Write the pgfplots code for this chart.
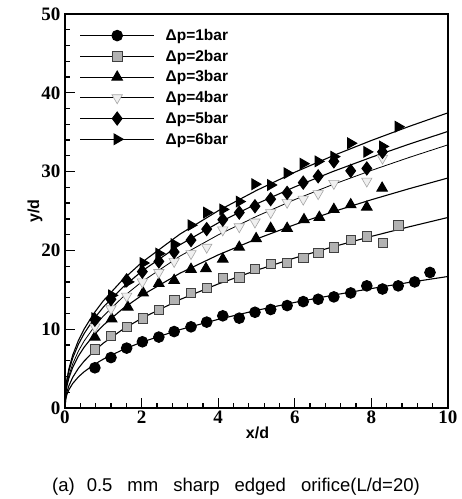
\documentclass[border=0pt]{standalone}
\usepackage{pgfplots}
\pgfplotsset{compat=1.18}
\usepackage{fontspec}
\setmainfont{Liberation Serif}
\newfontfamily\arial{Liberation Sans}
\begin{document}
\begin{tikzpicture}
\useasboundingbox (-65pt,-91pt) rectangle (397pt,408pt);
\begin{axis}[
  at={(0pt,0pt)}, anchor=south west,
  scale only axis, width=383pt, height=394pt,
  xmin=0, xmax=10, ymin=0, ymax=50,
  xtick={0,2,...,10}, ytick={0,10,...,50},
  minor x tick num=4, minor y tick num=4,
  xtick pos=bottom, ytick pos=left, tick align=inside,
  major tick length=10pt, minor tick length=5pt,
  every tick/.style={black, line width=1.3pt},
  axis line style={line width=2.2pt},
  /pgf/number format/assume math mode=true,
  ticklabel style={font=\bfseries\fontsize{19}{19}\selectfont},
  xticklabel style={yshift=1pt},
  yticklabel style={xshift=-1pt},
  xlabel={\arial\bfseries x/d}, ylabel={\arial\bfseries y/d},
  label style={font=\fontsize{16}{16}\selectfont},
  xlabel style={at={(axis description cs:0.5,0)}, anchor=center, yshift=-25pt, xshift=1pt},
  ylabel style={at={(axis description cs:0,0.5)}, anchor=center, yshift=30pt},
  legend style={draw=none, fill=none, at={(0.03,0.972)}, anchor=north west,
    font=\arial\bfseries\fontsize{15.5}{15.5}\selectfont, row sep=4pt,
    legend cell align=left, nodes={inner xsep=11pt}},
  legend image code/.code={\draw[#1, sharp plot, mark repeat=2, mark phase=2]
    plot coordinates {(0pt,0pt) (37pt,0pt) (74pt,0pt)};},
]
% data
\addplot[black, line width=1pt, only marks, mark=*, mark size=5.3pt, mark options={fill=black}]
 coordinates {(0.78,5.1)(1.20,6.4)(1.61,7.6)(2.02,8.4)(2.45,9.0)(2.85,9.7)(3.29,10.3)(3.70,10.9)(4.12,11.7)(4.55,11.4)(4.96,12.15)(5.37,12.5)(5.80,13.0)(6.22,13.5)(6.61,13.8)(7.02,14.1)(7.46,14.6)(7.88,15.5)(8.29,15.1)(8.70,15.5)(9.13,16.0)(9.53,17.2)};
\addlegendentry{Δp=1bar}
\addplot[black, line width=1pt, only marks, mark=square*, mark size=4.6pt, mark options={fill=gray!60, draw=gray!50!black, line width=0.5pt}]
 coordinates {(0.78,7.45)(1.20,9.14)(1.61,10.3)(2.02,11.4)(2.45,12.5)(2.85,13.7)(3.29,14.6)(3.70,15.3)(4.12,16.5)(4.55,16.6)(4.96,17.7)(5.37,18.3)(5.80,18.4)(6.22,19.1)(6.61,19.7)(7.02,20.4)(7.46,21.4)(7.88,21.8)(8.29,21.0)(8.70,23.2)};
\addlegendentry{Δp=2bar}
\addplot[black, line width=1pt, only marks, mark=triangle*, mark size=6pt, mark options={fill=black}]
 coordinates {(0.78,9.0)(1.22,11.3)(1.64,12.8)(2.04,14.6)(2.45,15.8)(2.85,16.2)(3.29,17.6)(3.68,17.7)(4.12,18.9)(4.55,20.4)(4.99,21.5)(5.37,22.8)(5.80,22.8)(6.24,23.9)(6.64,24.2)(7.02,25.2)(7.46,25.8)(7.88,25.5)(8.28,27.9)};
\addlegendentry{Δp=3bar}
\addplot[black, line width=0.7pt, only marks, mark=triangle*, mark size=6pt, mark options={rotate=180, fill=gray!12, draw=gray!70, line width=0.6pt}]
 coordinates {(0.78,10.3)(1.20,12.6)(1.61,14.2)(2.02,16.0)(2.45,17.2)(2.85,18.6)(3.29,19.6)(3.70,20.4)(4.12,22.6)(4.55,23.0)(4.96,23.6)(5.37,24.8)(5.80,26.1)(6.22,26.5)(6.61,27.2)(7.02,28.5)(7.88,28.8)(8.29,31.7)};
\addlegendentry{Δp=4bar}
\addplot[black, line width=1pt, only marks, mark=diamond*, mark size=6.5pt, mark options={fill=black}]
 coordinates {(0.78,11.2)(1.20,13.8)(1.61,16.2)(2.02,17.3)(2.45,18.6)(2.85,19.8)(3.29,21.3)(3.70,22.7)(4.12,23.9)(4.55,24.8)(4.96,25.6)(5.37,26.5)(5.80,27.3)(6.22,28.6)(6.61,29.4)(7.02,31.3)(7.46,30.1)(7.88,30.4)(8.29,32.5)};
\addlegendentry{Δp=5bar}
\addplot[black, line width=1pt, only marks, mark=triangle*, mark size=6pt, mark options={rotate=-90, fill=black}]
 coordinates {(0.78,11.4)(1.22,14.3)(1.64,16.0)(2.04,18.4)(2.45,19.6)(2.85,20.8)(3.29,23.2)(3.70,24.8)(4.12,25.2)(4.55,26.2)(4.96,28.4)(5.37,28.3)(5.80,29.8)(6.22,31.0)(6.61,31.3)(7.02,31.9)(7.46,33.6)(7.88,32.5)(8.29,33.2)(8.70,35.7)};
\addlegendentry{Δp=6bar}
% fitted curves
\addplot[black, line width=1.1pt, forget plot] coordinates {(0,0)(0.02,1.15)(0.05,1.71)(0.1,2.30)(0.2,3.10)(0.35,3.95)(0.5,4.60)(0.75,5.48)(1,6.20)(1.5,7.38)(2,8.35)(3,9.94)(4,11.25)(5,12.39)(6,13.40)(7,14.32)(8,15.16)(9,15.95)(10,16.69)};
\addplot[black, line width=1.1pt, forget plot] coordinates {(0,0)(0.02,1.32)(0.05,2.03)(0.1,2.80)(0.2,3.88)(0.35,5.04)(0.5,5.95)(0.75,7.19)(1,8.23)(1.5,9.95)(2,11.38)(3,13.76)(4,15.74)(5,17.48)(6,19.04)(7,20.46)(8,21.78)(9,23.01)(10,24.18)};
\addplot[black, line width=1.1pt, forget plot] coordinates {(0,0)(0.02,1.85)(0.05,2.78)(0.1,3.78)(0.2,5.14)(0.35,6.59)(0.5,7.72)(0.75,9.24)(1,10.5)(1.5,12.57)(2,14.28)(3,17.10)(4,19.43)(5,21.45)(6,23.27)(7,24.91)(8,26.43)(9,27.85)(10,29.19)};
\addplot[black, line width=0.8pt, forget plot] coordinates {(0,0)(0.02,1.95)(0.05,2.97)(0.1,4.07)(0.2,5.59)(0.35,7.22)(0.5,8.50)(0.75,10.22)(1,11.66)(1.5,14.03)(2,16.00)(3,19.27)(4,21.97)(5,24.32)(6,26.45)(7,28.37)(8,30.15)(9,31.82)(10,33.40)};
\addplot[black, line width=1.1pt, forget plot] coordinates {(0,0)(0.02,2.31)(0.05,3.45)(0.1,4.67)(0.2,6.33)(0.35,8.08)(0.5,9.45)(0.75,11.28)(1,12.8)(1.5,15.28)(2,17.34)(3,20.71)(4,23.49)(5,25.90)(6,28.06)(7,30.02)(8,31.82)(9,33.51)(10,35.10)};
\addplot[black, line width=1.1pt, forget plot] coordinates {(0,0)(0.02,2.43)(0.05,3.64)(0.1,4.94)(0.2,6.70)(0.35,8.57)(0.5,10.02)(0.75,11.98)(1,13.6)(1.5,16.25)(2,18.45)(3,22.06)(4,25.03)(5,27.61)(6,29.92)(7,32.02)(8,33.95)(9,35.76)(10,37.46)};
\end{axis}
\node[font=\arial\fontsize{18.5}{18.5}\selectfont, anchor=center] at (171pt,-79pt) {(a)\hspace{12pt}0.5\hspace{15pt}mm\hspace{15pt}sharp\hspace{15pt}edged\hspace{15pt}orifice(L/d=20)};
\end{tikzpicture}
\end{document}
